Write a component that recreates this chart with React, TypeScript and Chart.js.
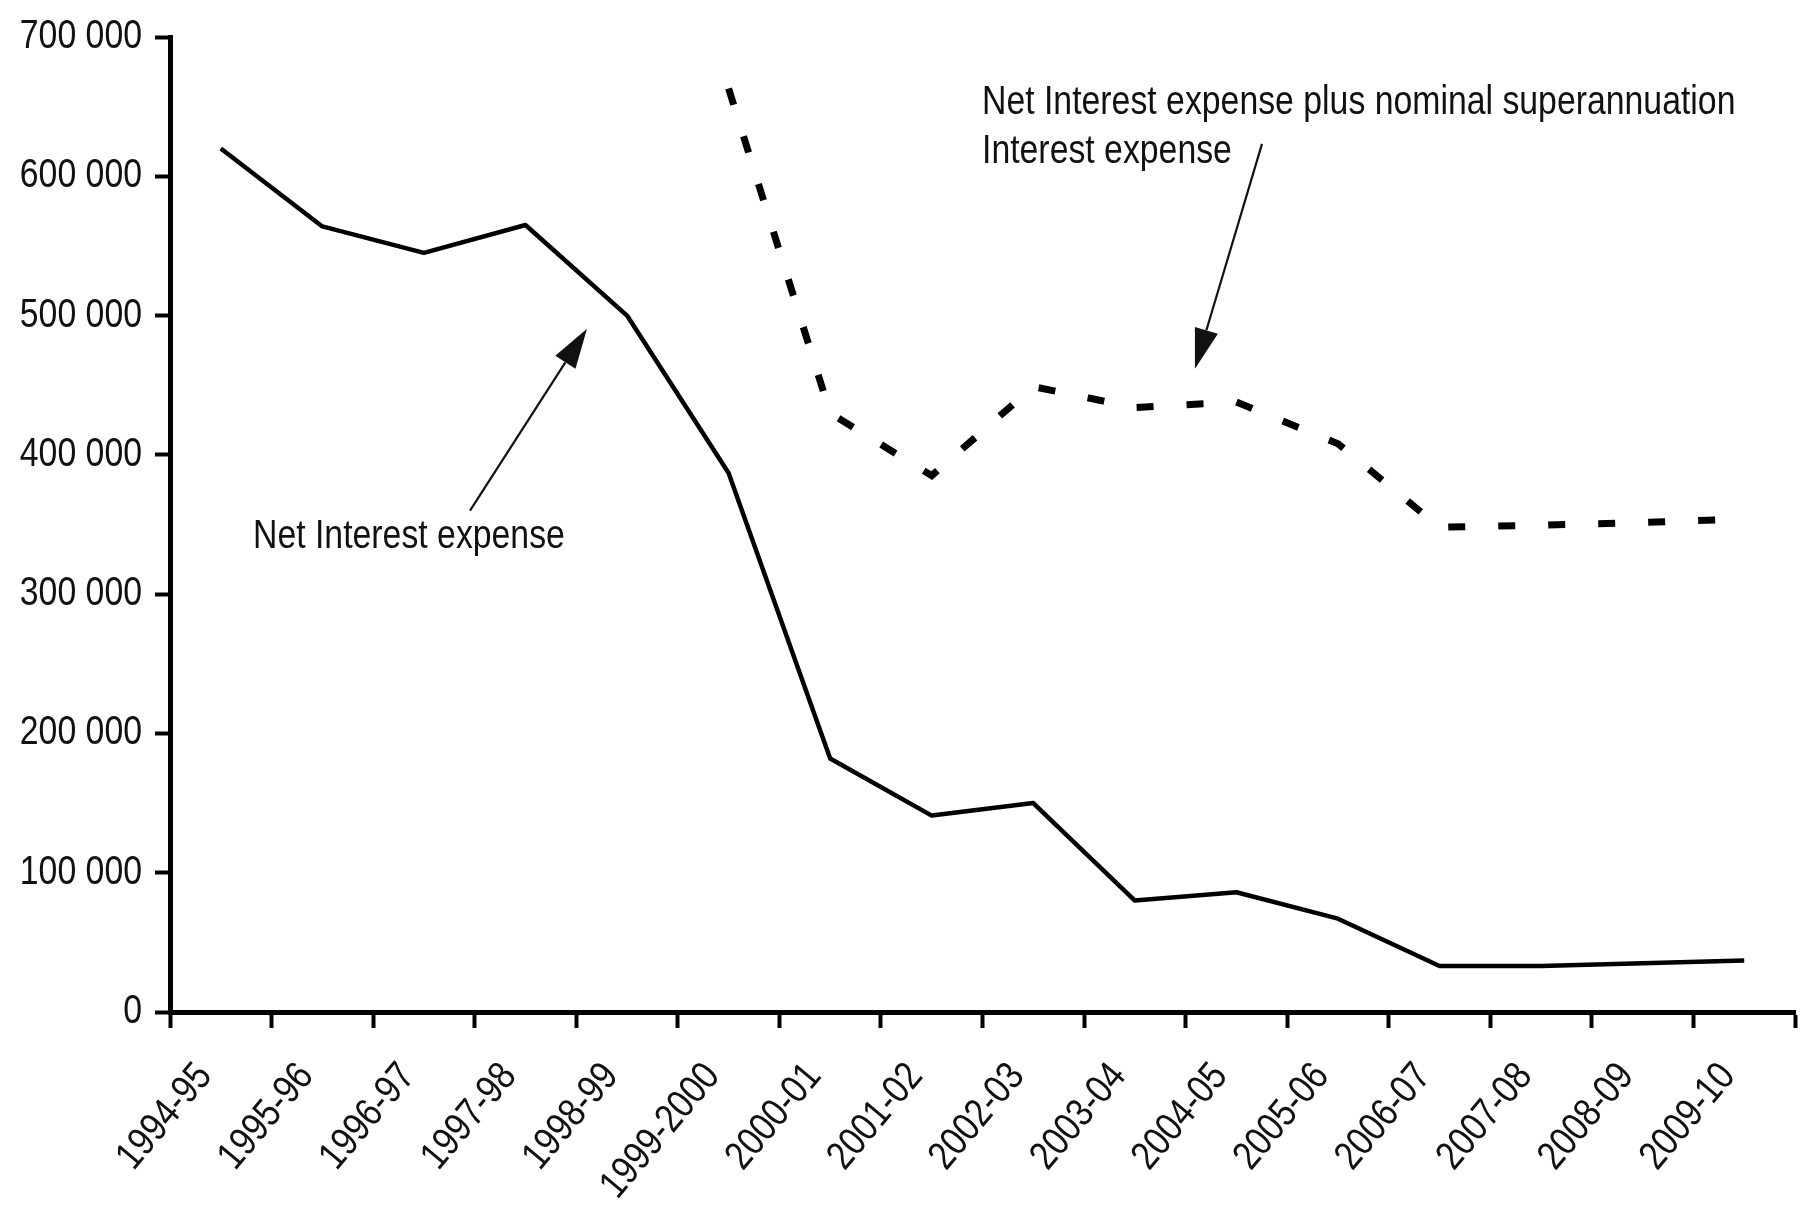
import React, { useEffect, useRef } from 'react';
import { Chart, registerables } from 'chart.js';

Chart.register(...registerables);

const categories = [
  '1994-95', '1995-96', '1996-97', '1997-98', '1998-99', '1999-2000', '2000-01', '2001-02',
  '2002-03', '2003-04', '2004-05', '2005-06', '2006-07', '2007-08', '2008-09', '2009-10',
];

const netInterestExpense = [
  620000, 564000, 545000, 565000, 500000, 387000, 182000, 141000,
  150000, 80000, 86000, 67000, 33000, 33000, 35000, 37000,
];

const netInterestPlusSuper = [
  null, null, null, null, null, 663000, 430000, 385000,
  449000, 434000, 438000, 408000, 348000, 349500, 351500, 354000,
];

const yMin = 0;
const yMax = 700000;
const yStep = 100000;

// annotation texts, anchored in data units (category index, value)
const noteTexts = [
  { text: 'Net Interest expense', x: 0.317, y: 333000 },
  { text: 'Net Interest expense plus nominal superannuation', x: 7.495, y: 644800 },
  { text: 'Interest expense', x: 7.495, y: 609600 },
];

// arrows: [tailIndex, tailValue, tipIndex, tipValue]
const noteArrows = [
  [2.454, 360000, 3.606, 490600],
  [10.252, 623300, 9.592, 461900],
];

const FONT = "'Liberation Sans', Arial, sans-serif";
const NARROW = 0.845; // horizontal squeeze to mimic a narrow face
const INK = '#111111';

function formatTick(v: number): string {
  return String(v).replace(/\B(?=(\d{3})+(?!\d))/g, ' ');
}

const notesPlugin = {
  id: 'notes',
  afterDatasetsDraw(chart: any) {
    const { ctx, scales } = chart;
    const xs = scales.x;
    const ys = scales.y;
    const x0 = xs.getPixelForValue(0);
    const dx = xs.getPixelForValue(1) - x0;
    const px = (i: number) => x0 + i * dx;
    const py = (v: number) => ys.getPixelForValue(v);

    ctx.save();
    ctx.fillStyle = INK;
    ctx.font = `40px ${FONT}`;
    ctx.textAlign = 'left';
    ctx.textBaseline = 'alphabetic';
    for (const n of noteTexts) {
      ctx.fillText(n.text, px(n.x), py(n.y));
    }

    ctx.strokeStyle = INK;
    ctx.lineWidth = 2.2;
    for (const a of noteArrows) {
      const tx = px(a[0]);
      const ty = py(a[1]);
      const hx = px(a[2]);
      const hy = py(a[3]);
      const ang = Math.atan2(hy - ty, hx - tx);
      const headLen = 40;
      const headHalf = 12;
      const bx = hx - headLen * Math.cos(ang);
      const by = hy - headLen * Math.sin(ang);
      ctx.beginPath();
      ctx.moveTo(tx, ty);
      ctx.lineTo(bx, by);
      ctx.stroke();
      ctx.beginPath();
      ctx.moveTo(hx, hy);
      ctx.lineTo(bx + headHalf * Math.sin(ang), by - headHalf * Math.cos(ang));
      ctx.lineTo(bx - headHalf * Math.sin(ang), by + headHalf * Math.cos(ang));
      ctx.closePath();
      ctx.fill();
    }
    ctx.restore();
  },
};

export default function App() {
  const canvasRef = useRef<HTMLCanvasElement | null>(null);

  useEffect(() => {
    const canvas = canvasRef.current;
    if (!canvas) return;
    const ctx2d = canvas.getContext('2d') as any;
    const origFill = ctx2d.fillText;
    ctx2d.fillText = function (text: string, x: number, y: number, maxWidth?: number) {
      this.save();
      this.translate(x, y);
      this.scale(NARROW, 1);
      if (maxWidth === undefined || maxWidth === null) origFill.call(this, text, 0, 0);
      else origFill.call(this, text, 0, 0, maxWidth / NARROW);
      this.restore();
    };

    const chart = new Chart(canvas, {
      type: 'line',
      data: {
        labels: categories,
        datasets: [
          {
            label: 'Net Interest expense',
            data: netInterestExpense,
            borderColor: '#000000',
            borderWidth: 4.5,
            pointRadius: 0,
            tension: 0,
            fill: false,
            borderJoinStyle: 'round',
          },
          {
            label: 'Net Interest expense plus nominal superannuation Interest expense',
            data: netInterestPlusSuper,
            borderColor: '#000000',
            borderWidth: 7,
            borderDash: [17, 33],
            borderCapStyle: 'butt',
            pointRadius: 0,
            tension: 0,
            fill: false,
            spanGaps: false,
          },
        ],
      },
      options: {
        animation: false,
        responsive: false,
        devicePixelRatio: 1,
        layout: { padding: { top: 36, right: 5, left: 0, bottom: 0 } },
        plugins: {
          legend: { display: false },
          tooltip: { enabled: false },
        },
        scales: {
          x: {
            type: 'category',
            offset: true,
            grid: {
              display: true,
              offset: true,
              drawOnChartArea: false,
              drawTicks: true,
              tickLength: 16,
              tickWidth: 4,
              tickColor: '#000000',
            },
            border: { display: true, color: '#000000', width: 5 },
            ticks: {
              autoSkip: false,
              maxRotation: 50,
              minRotation: 50,
              padding: 26,
              labelOffset: -16,
              color: INK,
              font: { family: FONT, size: 40 },
            },
            afterFit: (scale: any) => {
              scale.height = 194;
              scale.paddingLeft = 0;
              scale.paddingRight = 0;
            },
          },
          y: {
            min: yMin,
            max: yMax,
            grid: {
              display: true,
              drawOnChartArea: false,
              drawTicks: true,
              tickLength: 15,
              tickWidth: 4,
              tickColor: '#000000',
            },
            border: { display: true, color: '#000000', width: 5 },
            ticks: {
              stepSize: yStep,
              padding: 13,
              color: INK,
              font: { family: FONT, size: 40 },
              callback: (v: any) => formatTick(Number(v)),
            },
            afterFit: (scale: any) => {
              scale.width = 170;
            },
          },
        },
      },
      plugins: [notesPlugin],
    });
    return () => {
      chart.destroy();
      ctx2d.fillText = origFill;
    };
  }, []);

  return (
    <div style={{ position: 'fixed', left: 0, top: 0, width: 1800, height: 1206, background: '#ffffff' }}>
      <canvas ref={canvasRef} width={1800} height={1206} style={{ width: 1800, height: 1206, display: 'block' }} />
    </div>
  );
}
